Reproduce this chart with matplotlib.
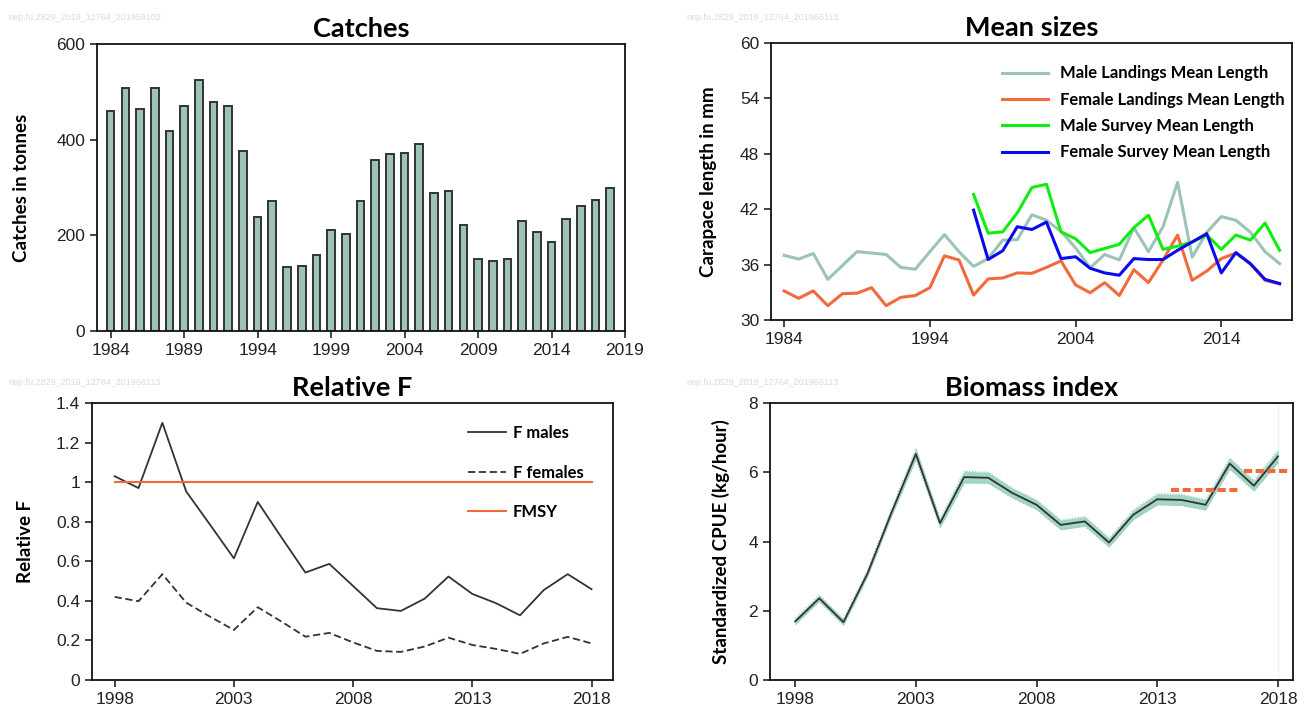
import matplotlib
matplotlib.use("Agg")
import matplotlib.pyplot as plt
import numpy as np

# ---------------- data ----------------
catch_years = list(range(1984, 2019))
catches = [460, 508, 464, 508, 418, 470, 524, 478, 470, 377, 238, 271, 133, 135, 159,
           211, 202, 271, 358, 370, 373, 391, 289, 292, 222, 151, 147, 151, 229, 208,
           187, 235, 262, 274, 298]

size_years = list(range(1984, 2019))
male_landings = [37.0, 36.6, 37.2, 34.4, 35.9, 37.4, 37.25, 37.1, 35.7, 35.5, 37.4, 39.25,
                 37.4, 35.8, 36.65, 38.65, 38.7, 41.4, 40.8, 39.6, 37.8, 35.65, 37.1, 36.5,
                 40.0, 37.4, 40.1, 44.9, 36.8, 39.5, 41.2, 40.8, 39.5, 37.4, 36.1]
female_landings = [33.15, 32.35, 33.15, 31.55, 32.85, 32.9, 33.5, 31.55, 32.45, 32.65, 33.5,
                   36.95, 36.5, 32.7, 34.45, 34.55, 35.1, 35.05, 35.7, 36.4, 33.8, 32.95,
                   34.05, 32.65, 35.45, 34.05, 36.5, 39.2, 34.3, 35.3, 36.65, 37.25, 36.05,
                   34.3, 33.9]
survey_years = list(range(1997, 2019))
male_survey = [43.6, 39.4, 39.55, 41.6, 44.35, 44.7, 39.55, 38.8, 37.3, 37.75, 38.2, 40.0,
               41.35, 37.65, 38.0, 38.45, 39.2, 37.65, 39.2, 38.65, 40.5, 37.55]
female_survey = [41.9, 36.55, 37.5, 40.1, 39.8, 40.6, 36.65, 36.85, 35.6, 35.1, 34.85, 36.65,
                 36.55, 36.55, 37.55, 38.45, 39.35, 35.1, 37.3, 36.1, 34.4, 33.95]

f_years = list(range(1998, 2019))
f_males = [1.03, 0.97, 1.30, 0.953, 0.785, 0.615, 0.90, 0.72, 0.543, 0.587, 0.475, 0.363,
           0.349, 0.411, 0.523, 0.435, 0.388, 0.327, 0.455, 0.535, 0.459]
f_females = [0.42, 0.398, 0.535, 0.391, 0.32, 0.253, 0.368, 0.295, 0.219, 0.238, 0.19,
             0.147, 0.142, 0.169, 0.214, 0.177, 0.157, 0.132, 0.185, 0.218, 0.185]
fmsy = 1.0

bio_years = list(range(1998, 2019))
cpue = [1.69, 2.36, 1.67, 3.08, 4.85, 6.53, 4.53, 5.86, 5.84, 5.40, 5.06, 4.48, 4.58, 3.97,
        4.77, 5.22, 5.20, 5.06, 6.25, 5.61, 6.46]
cpue_halfwidth = [0.09, 0.09, 0.09, 0.10, 0.11, 0.16, 0.13, 0.17, 0.16, 0.14, 0.14, 0.14,
                  0.14, 0.13, 0.14, 0.16, 0.16, 0.15, 0.16, 0.15, 0.18]
ref_start = [2013.57, 2016.58]
ref_end = [2016.44, 2018.5]
ref_value = [5.5, 6.04]

# ---------------- style ----------------
W, H = 1309, 710
fig = plt.figure(figsize=(W / 100, H / 100), dpi=100)
tick_font = ['Liberation Sans Narrow', 'Liberation Sans', 'DejaVu Sans']
bold_font = ['Lato', 'DejaVu Sans']
tick_color = '#222222'
bar_color = '#9DC3B6'
orange = '#F26A3C'
wm_color = '#D9D9D9'


def add_ax(left, top, right, bottom):
    return fig.add_axes([left / W, 1 - bottom / H, (right - left) / W, (bottom - top) / H])


def style(ax, title, ylabel):
    for s in ax.spines.values():
        s.set_linewidth(1.3)
        s.set_color('#111111')
    ax.tick_params(axis='both', which='both', direction='out', length=5, width=1.1,
                   labelsize=12.5, colors='#111111', labelcolor=tick_color)
    ax.tick_params(top=False, right=False)
    for lab in ax.get_xticklabels() + ax.get_yticklabels():
        lab.set_family(tick_font)
    ax.set_title(title, family=bold_font, fontweight='bold', fontsize=19.5, pad=5)
    ax.set_ylabel(ylabel, family=bold_font, fontweight='bold', fontsize=13.5)


# ---- Catches ----
ax1 = add_ax(97, 44, 625, 331)
ax1.bar(catch_years, catches, width=0.52, color=bar_color, edgecolor='#333333', linewidth=1.4)
ax1.set_xlim(1983.07, 2019)
ax1.set_ylim(0, 600)
ax1.set_xticks(range(1984, 2020, 5))
ax1.set_yticks([0, 200, 400, 600])
style(ax1, 'Catches', 'Catches in tonnes')
ax1.yaxis.set_label_coords(-0.127, 0.5)

# ---- Mean sizes ----
ax2 = add_ax(771, 43, 1292, 320)
ax2.plot(size_years, male_landings, color=bar_color, lw=2.2, label='Male Landings Mean Length')
ax2.plot(size_years, female_landings, color=orange, lw=2.2, label='Female Landings Mean Length')
ax2.plot(survey_years, male_survey, color='#10EE10', lw=2.2, label='Male Survey Mean Length')
ax2.plot(survey_years, female_survey, color='#0A0AF0', lw=2.2, label='Female Survey Mean Length')
ax2.set_xlim(1983.1, 2018.85)
ax2.set_ylim(30, 60)
ax2.set_xticks([1984, 1994, 2004, 2014])
ax2.set_yticks([30, 36, 42, 48, 54, 60])
style(ax2, 'Mean sizes', 'Carapace length in mm')
ax2.yaxis.set_label_coords(-0.104, 0.5)
ax2.legend(loc='upper right', bbox_to_anchor=(1.005, 0.955), frameon=False,
           prop={'family': bold_font, 'weight': 'bold', 'size': 12},
           handlelength=2.75, handletextpad=0.7, labelspacing=0.62, borderaxespad=0.2)

# ---- Relative F ----
ax3 = add_ax(92, 403, 613, 680)
ax3.plot(f_years, f_males, color='#333333', lw=1.3, label='F males')
ax3.plot(f_years, f_females, color='#333333', lw=1.3, ls=(0, (4, 2)), label='F females')
ax3.plot([f_years[0], f_years[-1]], [fmsy, fmsy], color=orange, lw=1.5, label='FMSY')
ax3.set_xlim(1997.05, 2018.9)
ax3.set_ylim(0, 1.4)
ax3.set_xticks(range(1998, 2019, 5))
ax3.set_yticks([0, 0.2, 0.4, 0.6, 0.8, 1.0, 1.2, 1.4])
ax3.set_yticklabels(['0', '0.2', '0.4', '0.6', '0.8', '1', '1.2', '1.4'])
style(ax3, 'Relative F', 'Relative F')
ax3.yaxis.set_label_coords(-0.112, 0.5)
ax3.legend(loc='upper left', bbox_to_anchor=(0.709, 0.945), frameon=False,
           prop={'family': bold_font, 'weight': 'bold', 'size': 12},
           handlelength=2.3, handletextpad=0.4, labelspacing=1.42, borderaxespad=0.0)

# ---- Biomass index ----
ax4 = add_ax(770, 403, 1293, 680)
cp = np.array(cpue)
hw = np.array(cpue_halfwidth)
ax4.fill_between(bio_years, cp - hw, cp + hw, color='#A3D6C4', lw=0)
ax4.plot(bio_years, cp + hw, color='#8CC9B3', lw=0.8, ls=':')
ax4.plot(bio_years, cp - hw, color='#8CC9B3', lw=0.8, ls=':')
ax4.plot(bio_years, cpue, color='#333333', lw=1.3)
for s, e, v in zip(ref_start, ref_end, ref_value):
    ax4.plot([s, e], [v, v], color=orange, lw=2.9, ls=(0, (2.0, 0.9)))
ax4.axvline(bio_years[-1], color='#E8F2EE', lw=0.8, zorder=0)
ax4.set_xlim(1996.96, 2018.62)
ax4.set_ylim(0, 8)
ax4.set_xticks(range(1998, 2019, 5))
ax4.set_yticks([0, 2, 4, 6, 8])
style(ax4, 'Biomass index', 'Standardized CPUE (kg/hour)')
ax4.yaxis.set_label_coords(-0.077, 0.5)

# watermarks
wm_kw = dict(fontsize=6.5, color=wm_color, family=tick_font, va='center', ha='left')
fig.text(8 / W, 1 - 18 / H, 'nep.fu.2829_2019_12764_201959102', **wm_kw)
fig.text(686 / W, 1 - 18 / H, 'nep.fu.2829_2019_12764_201966113', **wm_kw)
fig.text(8 / W, 1 - 383 / H, 'nep.fu.2829_2019_12764_201966113', **wm_kw)
fig.text(686 / W, 1 - 383 / H, 'nep.fu.2829_2019_12764_201966113', **wm_kw)

fig.savefig('out.png', dpi=100)
